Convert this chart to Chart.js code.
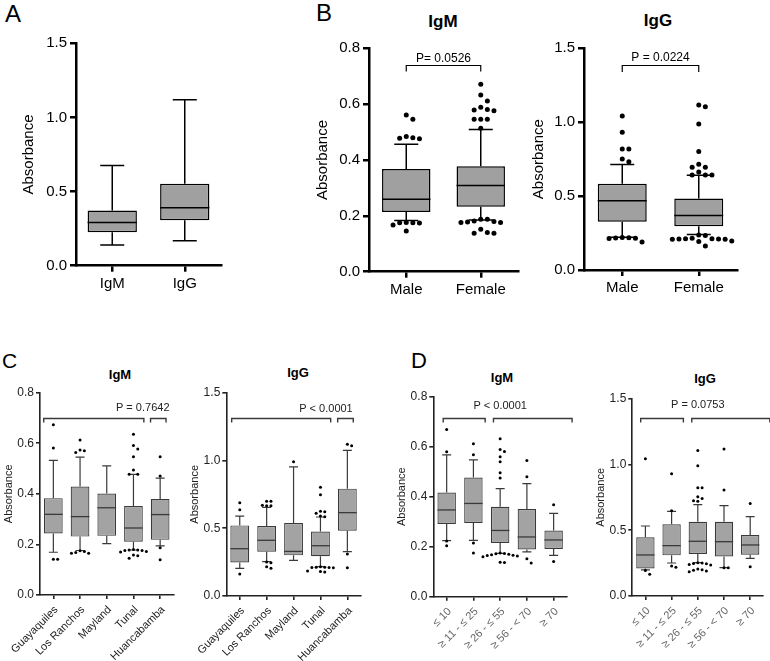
<!DOCTYPE html>
<html>
<head>
<meta charset="utf-8">
<script src="https://cdn.jsdelivr.net/npm/chart.js@4.4.0/dist/chart.umd.min.js"></script>
<style>
  body { margin: 0; width: 770px; height: 661px; background: #fff; position: relative; overflow: hidden;
         font-family: "Liberation Sans", Arial, Helvetica, sans-serif; }
  .panel { position: absolute; }
  .lbl { position: absolute; line-height: 1; color: #000; white-space: nowrap; }
  .title { font-weight: bold; transform: translateX(-50%); }
</style>
</head>
<body>
<div class="lbl" style="left:5px;top:2px;font-size:24px">A</div>
<div class="lbl" style="left:316px;top:1px;font-size:24px">B</div>
<div class="lbl" style="left:2px;top:350px;font-size:21px">C</div>
<div class="lbl" style="left:411px;top:350px;font-size:22px">D</div>

<div class="lbl title" style="left:443px;top:13px;font-size:17px">IgM</div>
<div class="lbl title" style="left:658px;top:12px;font-size:17px">IgG</div>
<div class="lbl title" style="left:120px;top:368px;font-size:13px">IgM</div>
<div class="lbl title" style="left:298px;top:366px;font-size:13px">IgG</div>
<div class="lbl title" style="left:502px;top:371px;font-size:13px">IgM</div>
<div class="lbl title" style="left:705px;top:372px;font-size:13px">IgG</div>

<script>
  "use strict";

  // ---------- Panel A: all samples ----------
  const A_LABELS = ["IgM", "IgG"];
  const A_MIN = [0.139, 0.169];
  const A_Q1 = [0.225, 0.306];
  const A_MED = [0.292, 0.391];
  const A_Q3 = [0.373, 0.553];
  const A_MAX = [0.675, 1.12];
  const A_OUT = [[], []];

  // ---------- Panel B: by sex ----------
  const SEX_LABELS = ["Male", "Female"];
  const BM_MIN = [0.183, 0.185];
  const BM_Q1 = [0.214, 0.233];
  const BM_MED = [0.259, 0.309];
  const BM_Q3 = [0.368, 0.378];
  const BM_MAX = [0.456, 0.509];
  const BM_OUT = [
    [0.561, 0.546, 0.484, 0.48, 0.478, 0.476, 0.176, 0.175, 0.175, 0.174, 0.167, 0.146],
    [0.671, 0.633, 0.611, 0.589, 0.581, 0.579, 0.576, 0.546, 0.546, 0.546, 0.514,
     0.188, 0.188, 0.182, 0.18, 0.178, 0.176, 0.176, 0.152, 0.14, 0.138, 0.138]
  ];
  const BG_MIN = [0.221, 0.241];
  const BG_Q1 = [0.327, 0.296];
  const BG_MED = [0.469, 0.368];
  const BG_Q3 = [0.584, 0.483];
  const BG_MAX = [0.713, 0.641];
  const BG_OUT = [
    [1.042, 0.932, 0.819, 0.819, 0.751, 0.733, 0.22, 0.218, 0.216, 0.215, 0.213, 0.19],
    [1.117, 1.105, 0.988, 0.801, 0.715, 0.695, 0.695, 0.663, 0.643, 0.643, 0.643,
     0.237, 0.234, 0.214, 0.212, 0.212, 0.21, 0.21, 0.208, 0.208, 0.196, 0.192, 0.162]
  ];

  // ---------- Panel C: by location ----------
  const PLACE_LABELS = ["Guayaquiles", "Los Ranchos", "Mayland", "Tunal", "Huancabamba"];
  const CM_MIN = [0.169, 0.176, 0.203, 0.178, 0.194];
  const CM_Q1 = [0.243, 0.231, 0.234, 0.211, 0.218];
  const CM_MED = [0.319, 0.31, 0.345, 0.265, 0.318];
  const CM_Q3 = [0.383, 0.429, 0.401, 0.352, 0.38];
  const CM_MAX = [0.532, 0.545, 0.511, 0.477, 0.462];
  const CM_OUT = [
    [0.673, 0.581, 0.141, 0.141],
    [0.613, 0.573, 0.57, 0.564, 0.175, 0.172, 0.168, 0.165, 0.165],
    [],
    [0.636, 0.591, 0.577, 0.547, 0.494, 0.478, 0.478, 0.18, 0.178, 0.178, 0.176, 0.176, 0.172, 0.17, 0.158, 0.155, 0.145],
    [0.547, 0.471, 0.187, 0.139]
  ];
  const CG_MIN = [0.204, 0.253, 0.263, 0.216, 0.327];
  const CG_Q1 = [0.248, 0.327, 0.3, 0.293, 0.482];
  const CG_MED = [0.349, 0.411, 0.329, 0.371, 0.615];
  const CG_Q3 = [0.521, 0.516, 0.538, 0.475, 0.792];
  const CG_MAX = [0.59, 0.654, 0.952, 0.583, 1.075];
  const CG_OUT = [
    [0.688, 0.637, 0.162],
    [0.7, 0.7, 0.67, 0.666, 0.666, 0.25, 0.245, 0.216, 0.204],
    [0.991],
    [0.802, 0.747, 0.625, 0.622, 0.61, 0.59, 0.585, 0.215, 0.213, 0.212, 0.21, 0.21, 0.208, 0.185, 0.18, 0.178],
    [1.119, 1.109, 0.31, 0.209]
  ];

  // ---------- Panel D: by age group ----------
  const AGE_LABELS = ["\u2264 10", "\u2265 11 - \u2264 25", "\u2265 26 - \u2264 55", "\u2265 56 - < 70", "\u2265 70"];
  const DM_MIN = [0.224, 0.225, 0.173, 0.179, 0.165];
  const DM_Q1 = [0.291, 0.295, 0.215, 0.189, 0.191];
  const DM_MED = [0.347, 0.373, 0.265, 0.239, 0.227];
  const DM_Q3 = [0.417, 0.477, 0.36, 0.351, 0.265];
  const DM_MAX = [0.567, 0.547, 0.432, 0.452, 0.333];
  const DM_OUT = [
    [0.669, 0.58, 0.223, 0.204],
    [0.612, 0.568, 0.215, 0.175],
    [0.632, 0.589, 0.581, 0.56, 0.54, 0.496, 0.475, 0.175, 0.173, 0.172, 0.17, 0.168, 0.166, 0.165, 0.163, 0.16, 0.138, 0.137],
    [0.545, 0.48, 0.152, 0.135],
    [0.368, 0.141]
  ];
  const DG_MIN = [0.198, 0.251, 0.253, 0.215, 0.286];
  const DG_Q1 = [0.21, 0.309, 0.319, 0.301, 0.314];
  const DG_MED = [0.312, 0.383, 0.416, 0.413, 0.388];
  const DG_Q3 = [0.446, 0.545, 0.565, 0.565, 0.464];
  const DG_MAX = [0.532, 0.644, 0.694, 0.687, 0.603];
  const DG_OUT = [
    [1.044, 0.193, 0.165],
    [0.93, 0.649, 0.228, 0.218],
    [1.107, 0.991, 0.823, 0.823, 0.755, 0.742, 0.725, 0.72, 0.252, 0.25, 0.248, 0.245, 0.24, 0.235, 0.205, 0.2, 0.195, 0.19, 0.185],
    [1.117, 0.806, 0.215, 0.215],
    [0.704, 0.223]
  ];

  // comparison brackets (category units) and P values
  const BM_BRACKETS = [[0, 1]];
  const BG_BRACKETS = [[0, 1]];
  const CM_BRACKETS = [[-0.36, 3.39], [3.64, 4.22]];
  const CG_BRACKETS = [[-0.3, 3.38], [3.64, 4.22]];
  const DM_BRACKETS = [[-0.13, 1.44], [1.75, 4.69]];
  const DG_BRACKETS = [[-0.18, 1.45], [1.77, 4.75]];

  const FONT = '"Liberation Sans", Arial, Helvetica, sans-serif';
  Chart.defaults.font.family = FONT;

  const BIG = {
    yFont: 15, xFont: 15, titleFont: 15, pFont: 12, text: "#000",
    axisW: 2.5, axis: "#000", tickLen: 6, yPad: 3, xPad: 3, rotated: false,
    fill: "#a0a0a0", stroke: "#000", boxLine: 1.5, whiskerW: 1.5, medianW: 1.5,
    cap: 24, dotR: 2.5, dotGap: 6.6, bracketW: 1.2, bracketColor: "#000"
  };
  const SMALL = {
    yFont: 12, xFont: 11, titleFont: 11, pFont: 11, text: "#222",
    axisW: 1.6, axis: "#222", tickLen: 4, yPad: 2, xPad: 2, rotated: true,
    fill: "#a3a3a3", stroke: "#3a3a3a", boxLine: 1.2, whiskerW: 1.2, medianW: 1.3,
    cap: 9, dotR: 1.5, dotGap: 4.3, bracketW: 1.4, bracketColor: "#3a3a3a"
  };

  // simple beeswarm: spread close points sideways
  function swarm(values, center, pxY, pxCat, gap) {
    const placed = [];
    return values.map((v) => {
      const py = v * pxY;
      let off = 0;
      for (let k = 0; k < 40; k++) {
        off = (k % 2 ? 1 : -1) * Math.ceil(k / 2) * gap;
        if (!placed.some((p) => Math.hypot(p.x - off, p.y - py) < gap - 0.01)) break;
      }
      placed.push({ x: off, y: py });
      return { x: center + off / pxCat, y: v };
    });
  }

  function boxChart(geo, s, d) {
    const wrap = document.createElement("div");
    wrap.className = "panel";
    Object.assign(wrap.style, {
      left: geo.cl + "px", top: geo.ct + "px", width: geo.cw + "px", height: geo.ch + "px"
    });
    const cv = document.createElement("canvas");
    wrap.appendChild(cv);
    document.body.appendChild(wrap);

    const n = d.labels.length;
    const yW = geo.l - geo.cl;
    const xH = geo.ct + geo.ch - geo.b;
    const pxY = (geo.b - geo.t) / d.yMax;
    const pxCat = (geo.r - geo.l) / n;
    const points = [];
    d.out.forEach((vals, i) => points.push(...swarm(vals, i, pxY, pxCat, s.dotGap)));

    const boxPlugin = {
      id: "boxes",
      beforeDatasetsDraw(chart) {
        const { ctx, scales: { x, y } } = chart;
        ctx.save();
        ctx.strokeStyle = s.stroke;
        ctx.lineWidth = s.whiskerW;
        d.labels.forEach((_, i) => {
          const cx = x.getPixelForValue(i);
          [[d.q3[i], d.max[i]], [d.q1[i], d.min[i]]].forEach(([from, to]) => {
            const y0 = y.getPixelForValue(from);
            const y1 = y.getPixelForValue(to);
            ctx.beginPath();
            ctx.moveTo(cx, y0);
            ctx.lineTo(cx, y1);
            ctx.moveTo(cx - s.cap / 2, y1);
            ctx.lineTo(cx + s.cap / 2, y1);
            ctx.stroke();
          });
        });
        ctx.restore();
      },
      afterDatasetDraw(chart, args) {
        if (args.index !== 0) return;
        const { ctx, scales: { y } } = chart;
        ctx.save();
        ctx.strokeStyle = s.stroke;
        ctx.lineWidth = s.medianW;
        chart.getDatasetMeta(0).data.forEach((bar, i) => {
          const yy = y.getPixelForValue(d.med[i]);
          ctx.beginPath();
          ctx.moveTo(bar.x - bar.width / 2, yy);
          ctx.lineTo(bar.x + bar.width / 2, yy);
          ctx.stroke();
        });
        ctx.restore();
      },
      afterDraw(chart) {
        const { ctx, scales: { x, xj, y } } = chart;
        ctx.save();
        // slanted category labels (panels C and D)
        if (s.rotated) {
          ctx.fillStyle = d.xColor || s.text;
          ctx.font = s.xFont + "px " + FONT;
          ctx.textAlign = "right";
          ctx.textBaseline = "middle";
          d.labels.forEach((lab, i) => {
            ctx.save();
            ctx.translate(x.getPixelForValue(i) + 3, x.top + s.tickLen + 9);
            ctx.rotate(-Math.PI / 4);
            ctx.fillText(lab, 0, 0);
            ctx.restore();
          });
        }
        if (d.brackets) {
          ctx.strokeStyle = s.bracketColor;
          ctx.lineWidth = s.bracketW;
          const yy = Math.round(y.getPixelForValue(d.bracketY)) + 0.5;
          d.brackets.forEach(([a, b]) => {
            const x1 = xj.getPixelForValue(a);
            const x2 = xj.getPixelForValue(b);
            ctx.beginPath();
            ctx.moveTo(x1, yy + geo.drop);
            ctx.lineTo(x1, yy);
            ctx.lineTo(x2, yy);
            ctx.lineTo(x2, yy + geo.drop);
            ctx.stroke();
          });
          ctx.fillStyle = s.text;
          ctx.font = s.pFont + "px " + FONT;
          ctx.textAlign = d.pAlign;
          ctx.textBaseline = "alphabetic";
          ctx.fillText(d.pText, xj.getPixelForValue(d.pX), y.getPixelForValue(d.pY));
        }
        ctx.restore();
      }
    };

    const grid = {
      display: true, drawOnChartArea: false, drawTicks: true,
      tickLength: s.tickLen, color: s.axis, lineWidth: s.axisW
    };
    const border = { display: true, color: s.axis, width: s.axisW };

    return new Chart(cv, {
      type: "bar",
      data: {
        labels: d.labels,
        datasets: [
          {
            data: d.q1.map((v, i) => [v, d.q3[i]]),
            backgroundColor: s.fill,
            borderColor: s.stroke,
            borderWidth: s.boxLine,
            borderSkipped: false,
            grouped: false,
            barPercentage: geo.boxFrac,
            categoryPercentage: 1,
            xAxisID: "x",
            yAxisID: "y"
          },
          {
            type: "scatter",
            data: points,
            xAxisID: "xj",
            yAxisID: "y",
            pointRadius: s.dotR,
            pointHoverRadius: s.dotR,
            pointBackgroundColor: "#000",
            pointBorderWidth: 0
          }
        ]
      },
      options: {
        responsive: true,
        maintainAspectRatio: false,
        animation: false,
        events: [],
        layout: {
          padding: { left: 0, top: geo.t - geo.ct, right: geo.cl + geo.cw - geo.r, bottom: 0 }
        },
        plugins: { legend: { display: false }, tooltip: { enabled: false } },
        scales: {
          x: {
            type: "category",
            offset: true,
            grid: Object.assign({ offset: false }, grid),
            border: border,
            ticks: {
              display: !s.rotated,
              color: d.xColor || s.text,
              font: { size: s.xFont },
              padding: s.xPad,
              maxRotation: 0,
              autoSkip: false
            },
            afterFit(sc) {
              sc.height = xH;
              sc.paddingLeft = 0;
              sc.paddingRight = 0;
            }
          },
          xj: { type: "linear", display: false, offset: false, min: -0.5, max: n - 0.5 },
          y: {
            min: 0,
            max: d.yMax,
            grid: grid,
            border: border,
            ticks: {
              stepSize: d.step,
              color: s.text,
              font: { size: s.yFont },
              padding: s.yPad,
              callback: (v) => v.toFixed(1)
            },
            title: {
              display: true,
              text: "Absorbance",
              color: s.text,
              font: { size: s.titleFont },
              padding: { top: geo.titleX - geo.cl - s.titleFont * 0.6, bottom: 0 }
            },
            afterFit(sc) {
              sc.width = yW;
              sc.paddingTop = 0;
              sc.paddingBottom = 0;
            }
          }
        }
      },
      plugins: [boxPlugin]
    });
  }

  // Panel A
  boxChart(
    { cl: 0, ct: 0, cw: 230, ch: 300, l: 76, t: 43.3, r: 221, b: 265.7, titleX: 29, boxFrac: 0.68 },
    BIG,
    { labels: A_LABELS, min: A_MIN, q1: A_Q1, med: A_MED, q3: A_Q3, max: A_MAX, out: A_OUT, yMax: 1.5, step: 0.5 }
  );

  // Panel B
  boxChart(
    { cl: 290, ct: 0, cw: 240, ch: 300, l: 369, t: 48.3, r: 518, b: 271.7, titleX: 322.5, boxFrac: 0.65, drop: 6 },
    BIG,
    { labels: SEX_LABELS, min: BM_MIN, q1: BM_Q1, med: BM_MED, q3: BM_Q3, max: BM_MAX, out: BM_OUT, yMax: 0.8, step: 0.2,
      brackets: BM_BRACKETS, bracketY: 0.74, pText: "P= 0.0526", pX: 0.5, pY: 0.752, pAlign: "center" }
  );
  boxChart(
    { cl: 530, ct: 0, cw: 240, ch: 300, l: 584, t: 48.3, r: 737, b: 270, titleX: 539, boxFrac: 0.64, drop: 6.5 },
    BIG,
    { labels: SEX_LABELS, min: BG_MIN, q1: BG_Q1, med: BG_MED, q3: BG_Q3, max: BG_MAX, out: BG_OUT, yMax: 1.5, step: 0.5,
      brackets: BG_BRACKETS, bracketY: 1.387, pText: "P = 0.0224", pX: 0.5, pY: 1.414, pAlign: "center" }
  );

  // Panel C
  boxChart(
    { cl: 0, ct: 330, cw: 190, ch: 331, l: 40, t: 392.7, r: 173.5, b: 595, titleX: 9, boxFrac: 0.7, drop: 4 },
    SMALL,
    { labels: PLACE_LABELS, min: CM_MIN, q1: CM_Q1, med: CM_MED, q3: CM_Q3, max: CM_MAX, out: CM_OUT, yMax: 0.8, step: 0.2,
      brackets: CM_BRACKETS, bracketY: 0.701, pText: "P = 0.7642", pX: 4.35, pY: 0.729, pAlign: "right" }
  );
  boxChart(
    { cl: 185, ct: 330, cw: 195, ch: 331, l: 226.3, t: 392.7, r: 360.8, b: 596, titleX: 195, boxFrac: 0.7, drop: 4 },
    SMALL,
    { labels: PLACE_LABELS, min: CG_MIN, q1: CG_Q1, med: CG_MED, q3: CG_Q3, max: CG_MAX, out: CG_OUT, yMax: 1.5, step: 0.5,
      brackets: CG_BRACKETS, bracketY: 1.316, pText: "P < 0.0001", pX: 4.2, pY: 1.356, pAlign: "right" }
  );

  // Panel D
  boxChart(
    { cl: 390, ct: 330, cw: 195, ch: 331, l: 433.3, t: 396.7, r: 567, b: 596.7, titleX: 402, boxFrac: 0.69, drop: 4 },
    SMALL,
    { labels: AGE_LABELS, min: DM_MIN, q1: DM_Q1, med: DM_MED, q3: DM_Q3, max: DM_MAX, out: DM_OUT, yMax: 0.8, step: 0.2,
      brackets: DM_BRACKETS, bracketY: 0.714, pText: "P < 0.0001", pX: 2, pY: 0.75, pAlign: "center", xColor: "#666" }
  );
  boxChart(
    { cl: 585, ct: 330, cw: 185, ch: 331, l: 632.3, t: 398.7, r: 763.3, b: 596, titleX: 600.5, boxFrac: 0.7, drop: 4 },
    SMALL,
    { labels: AGE_LABELS, min: DG_MIN, q1: DG_Q1, med: DG_MED, q3: DG_Q3, max: DG_MAX, out: DG_OUT, yMax: 1.5, step: 0.5,
      brackets: DG_BRACKETS, bracketY: 1.351, pText: "P = 0.0753", pX: 2, pY: 1.432, pAlign: "center", xColor: "#666" }
  );
</script>
</body>
</html>
